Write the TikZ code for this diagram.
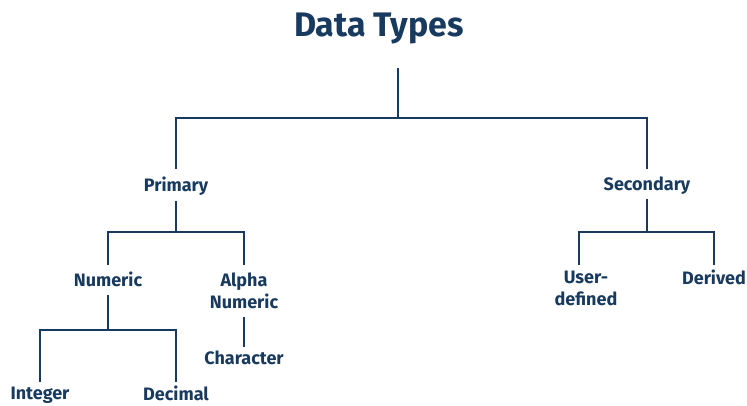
\documentclass[tikz,border=0pt]{standalone}
\usepackage{fontspec}
\setmainfont{Fira Sans}
\definecolor{navy}{HTML}{183A5E}
\begin{document}
\begin{tikzpicture}[x=1pt,y=-1pt,
  lbl/.style={font=\bfseries\fontsize{18}{22}\selectfont, text=navy,
    inner xsep=0pt, inner ysep=#1, text height=12.4pt, text depth=0pt},
  lbl/.default=8pt,
  twoline/.style={font=\bfseries\fontsize{18}{22}\selectfont, text=navy,
    inner xsep=0pt, inner ysep=#1, align=center, anchor=north},
  link/.style={draw=navy, line width=2.8pt}]
\fill[white] (0,0) rectangle (747,405);
\useasboundingbox (0,0) rectangle (747,405);

% title
\node[font=\bfseries\fontsize{34}{40}\selectfont, text=navy, anchor=base] (title) at (379,36) {Data Types};

% labels
\node[lbl=10pt]   (primary)   at (176,185) {Primary};
\node[lbl=9pt]    (secondary) at (647,184) {Secondary};
\node[lbl=9pt]    (numeric)   at (108,280) {Numeric};
\node[twoline=8pt] (alpha)    at (244,265) {Alpha\\Numeric};
\node[lbl=5pt]    (character) at (244,358) {Character};
\node[lbl=5pt]    (integer)   at (40,393)  {Integer};
\node[lbl=6pt]    (decimal)   at (176,394) {Decimal};
\node[twoline=5.5pt] (user)   at (586,265) {User-\\defined};
\node[lbl=7pt]    (derived)   at (714,278) {Derived};

% junction points
\coordinate (root) at (398,68);
\coordinate (jr) at (398,118);
\coordinate (pj) at (176,232);
\coordinate (nj) at (108,330);
\coordinate (sj) at (647,232);
\coordinate (ul) at (579,232);

% connectors
\draw[link] (root) -- (jr);
\draw[link] (primary.north) |- (jr) -| (secondary.north);
\draw[link] (primary.south) -- (pj);
\draw[link] (numeric.north) |- (pj) -| (alpha.north);
\draw[link] (numeric.south) -- (nj);
\draw[link] (integer.north) |- (nj) -| (decimal.north);
\draw[link] (alpha.south) -- (character.north);
\draw[link] (secondary.south) -- (sj);
\draw[link] (user.north -| ul) |- (sj) -| (derived.north);
\end{tikzpicture}
\end{document}
